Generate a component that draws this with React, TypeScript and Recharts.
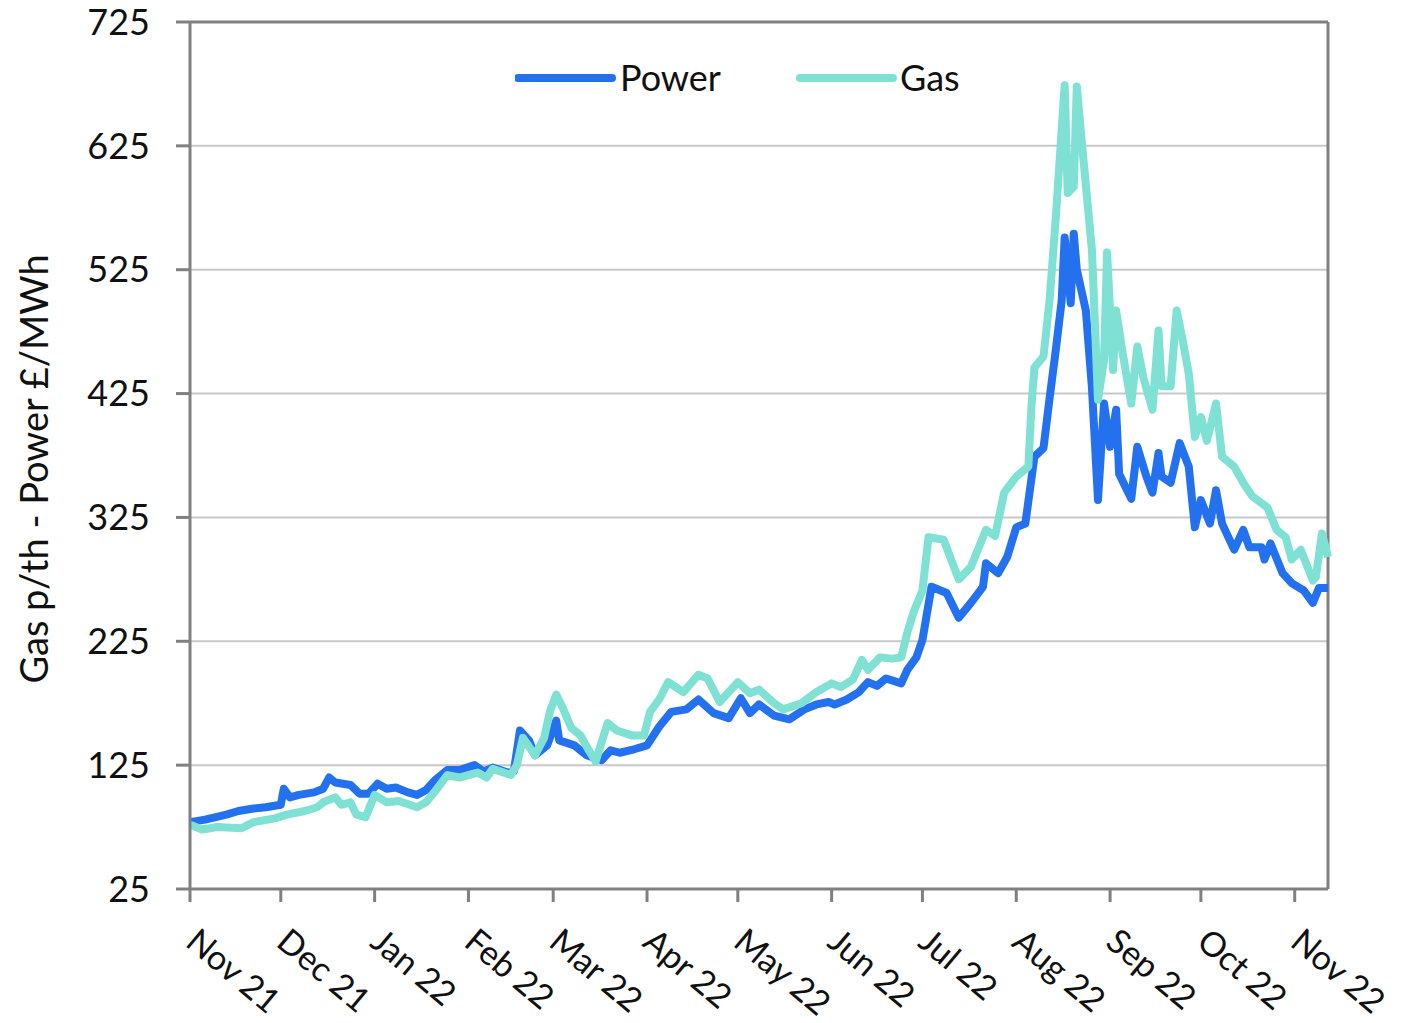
import React from "react";
import {
  LineChart,
  Line,
  XAxis,
  YAxis,
  CartesianGrid,
  ReferenceLine,
  Legend,
} from "recharts";

// days counted from 1 Nov 2021
const monthTicks = [0, 30, 61, 92, 120, 151, 181, 212, 242, 273, 304, 334, 365];
const monthLabels = [
  "Nov 21", "Dec 21", "Jan 22", "Feb 22", "Mar 22", "Apr 22", "May 22",
  "Jun 22", "Jul 22", "Aug 22", "Sep 22", "Oct 22", "Nov 22",
];
const yTicks = [25, 125, 225, 325, 425, 525, 625, 725];

const powerDays = [
  0, 5, 12, 16, 21, 25, 30, 31, 33, 36, 41, 44, 46, 48, 53, 56, 59, 62, 65, 68,
  72, 75, 78, 81, 85, 89, 94, 97, 100, 105, 107, 109, 112, 114, 118, 121, 122,
  127, 131, 136, 139, 142, 147, 151, 155, 159, 164, 168, 173, 178, 182, 185,
  188, 193, 198, 203, 207, 211, 213, 217, 221, 224, 227, 230, 235, 237, 240,
  242, 245, 250, 254, 258, 262, 263, 267, 270, 273, 276, 279, 282, 284, 286,
  288, 289, 291, 292, 293, 296, 298, 300, 302, 304, 306, 307, 311, 313, 316,
  318, 320, 321, 324, 327, 330, 332, 334, 337, 339, 341, 345, 348, 350, 354,
  355, 357, 361, 364, 368, 371, 373, 376,
];
const powerValues = [
  79, 81, 85, 88, 90, 91, 93, 106, 99, 101, 103, 106, 115, 111, 109, 102, 102,
  110, 106, 107, 103, 101, 105, 113, 121, 121, 125, 120, 123, 119, 120, 153,
  145, 133, 141, 161, 145, 141, 133, 129, 137, 135, 138, 141, 156, 168, 170,
  178, 167, 163, 179, 167, 174, 165, 162, 170, 174, 176, 174, 178, 184, 192,
  189, 195, 191, 202, 212, 226, 269, 264, 244, 256, 269, 288, 280, 293, 317,
  320, 374, 381, 421, 459, 500, 551, 498, 554, 525, 492, 430, 339, 417, 382,
  412, 360, 340, 382, 358, 345, 377, 358, 353, 385, 366, 317, 339, 320, 347,
  320, 299, 315, 301, 301, 291, 304, 280, 272, 266, 256, 268, 268,
];

const gasDays = [
  0, 4, 9, 17, 21, 28, 32, 38, 42, 44, 48, 50, 53, 55, 58, 61, 65, 69, 75, 78,
  81, 85, 89, 95, 98, 100, 106, 108, 110, 114, 117, 119, 121, 123, 126, 129,
  132, 134, 138, 141, 146, 150, 152, 155, 158, 163, 168, 171, 175, 181, 185,
  188, 193, 196, 202, 207, 212, 215, 219, 222, 224, 228, 232, 235, 237, 239,
  242, 244, 249, 254, 258, 263, 266, 269, 273, 277, 278, 279, 282, 284, 286,
  289, 290, 292, 293, 295, 298, 300, 302, 303, 305, 306, 308, 311, 313, 315,
  318, 320, 321, 324, 326, 328, 330, 332, 334, 336, 339, 341, 345, 348, 351,
  356, 359, 362, 364, 367, 371, 372, 374, 376,
];
const gasValues = [
  77, 73, 75, 74, 79, 82, 85, 88, 91, 95, 99, 93, 95, 85, 83, 101, 95, 96, 91,
  95, 104, 117, 115, 119, 115, 122, 117, 125, 147, 133, 147, 169, 182, 172,
  155, 149, 136, 128, 159, 153, 149, 149, 168, 178, 192, 184, 198, 195, 176,
  192, 183, 186, 175, 170, 175, 184, 191, 188, 194, 210, 202, 212, 211, 212,
  232, 248, 266, 309, 307, 275, 285, 315, 310, 345, 358, 366, 414, 446, 455,
  500, 565, 674, 587, 592, 673, 619, 541, 420, 452, 539, 444, 492, 460, 417,
  463, 438, 412, 476, 431, 431, 492, 468, 441, 390, 406, 387, 417, 374, 366,
  353, 342, 333, 315, 309, 291, 299, 274, 277, 312, 293,
];

const POWER = "#2471F0";
const GAS = "#7FE0D4";
const AXIS = "#808080";
const FONT = "Lato, 'Open Sans', sans-serif";

const powerData = powerDays.map((day, i) => ({ day, value: powerValues[i] }));
const gasData = gasDays.map((day, i) => ({ day, value: gasValues[i] }));

function MonthTick({ x, payload }: any) {
  const idx = monthTicks.indexOf(payload.value);
  const ax = x - 6;
  const ay = 945;
  return (
    <text
      x={ax}
      y={ay}
      transform={`rotate(40, ${ax}, ${ay})`}
      textAnchor="start"
      fontSize={34}
      fontFamily={FONT}
      fill="#111"
    >
      {monthLabels[idx]}
    </text>
  );
}

function LegendBox() {
  return (
    <svg width={460} height={50}>
      <line x1={3} y1={23} x2={97} y2={23} stroke={POWER} strokeWidth={8} strokeLinecap="round" />
      <text x={105} y={36} fontSize={36} fontFamily={FONT} fill="#111">Power</text>
      <line x1={285} y1={23} x2={378} y2={23} stroke={GAS} strokeWidth={8} strokeLinecap="round" />
      <text x={385} y={36} fontSize={36} fontFamily={FONT} fill="#111">Gas</text>
    </svg>
  );
}

function YLabel() {
  return (
    <text
      x={48}
      y={469}
      transform="rotate(-90, 48, 469)"
      textAnchor="middle"
      fontSize={38}
      fontFamily={FONT}
      fill="#111"
    >
      Gas p/th - Power £/MWh
    </text>
  );
}

export default function App() {
  return (
    <div style={{ position: "absolute", left: 0, top: 0, background: "#fff" }}>
      <LineChart
        width={1419}
        height={1023}
        margin={{ top: 22, right: 91, left: 10, bottom: 0 }}
      >
        <CartesianGrid vertical={false} stroke="#C8C8C8" strokeWidth={2} />
        <XAxis
          dataKey="day"
          type="number"
          domain={[0, 376]}
          ticks={monthTicks}
          interval={0}
          height={134}
          tickSize={13}
          stroke={AXIS}
          strokeWidth={3}
          tick={<MonthTick />}
        />
        <YAxis
          type="number"
          domain={[25, 725]}
          ticks={yTicks}
          interval={0}
          width={180}
          tickSize={14}
          tickMargin={26}
          stroke={AXIS}
          strokeWidth={3}
          tick={{ fontSize: 36, fontFamily: FONT, fill: "#111" }}
          label={{ content: () => <YLabel /> }}
        />
        <ReferenceLine y={725} stroke={AXIS} strokeWidth={3} />
        <ReferenceLine x={376} stroke={AXIS} strokeWidth={3} />
        <Legend
          layout="horizontal"
          align="center"
          verticalAlign="middle"
          wrapperStyle={{ left: 515, top: 55, width: 460 }}
          content={() => <LegendBox />}
        />
        <Line
          data={powerData}
          dataKey="value"
          name="Power"
          type="linear"
          stroke={POWER}
          strokeWidth={8}
          strokeLinejoin="round"
          dot={false}
          isAnimationActive={false}
        />
        <Line
          data={gasData}
          dataKey="value"
          name="Gas"
          type="linear"
          stroke={GAS}
          strokeWidth={8}
          strokeLinejoin="round"
          dot={false}
          isAnimationActive={false}
        />
      </LineChart>
    </div>
  );
}
